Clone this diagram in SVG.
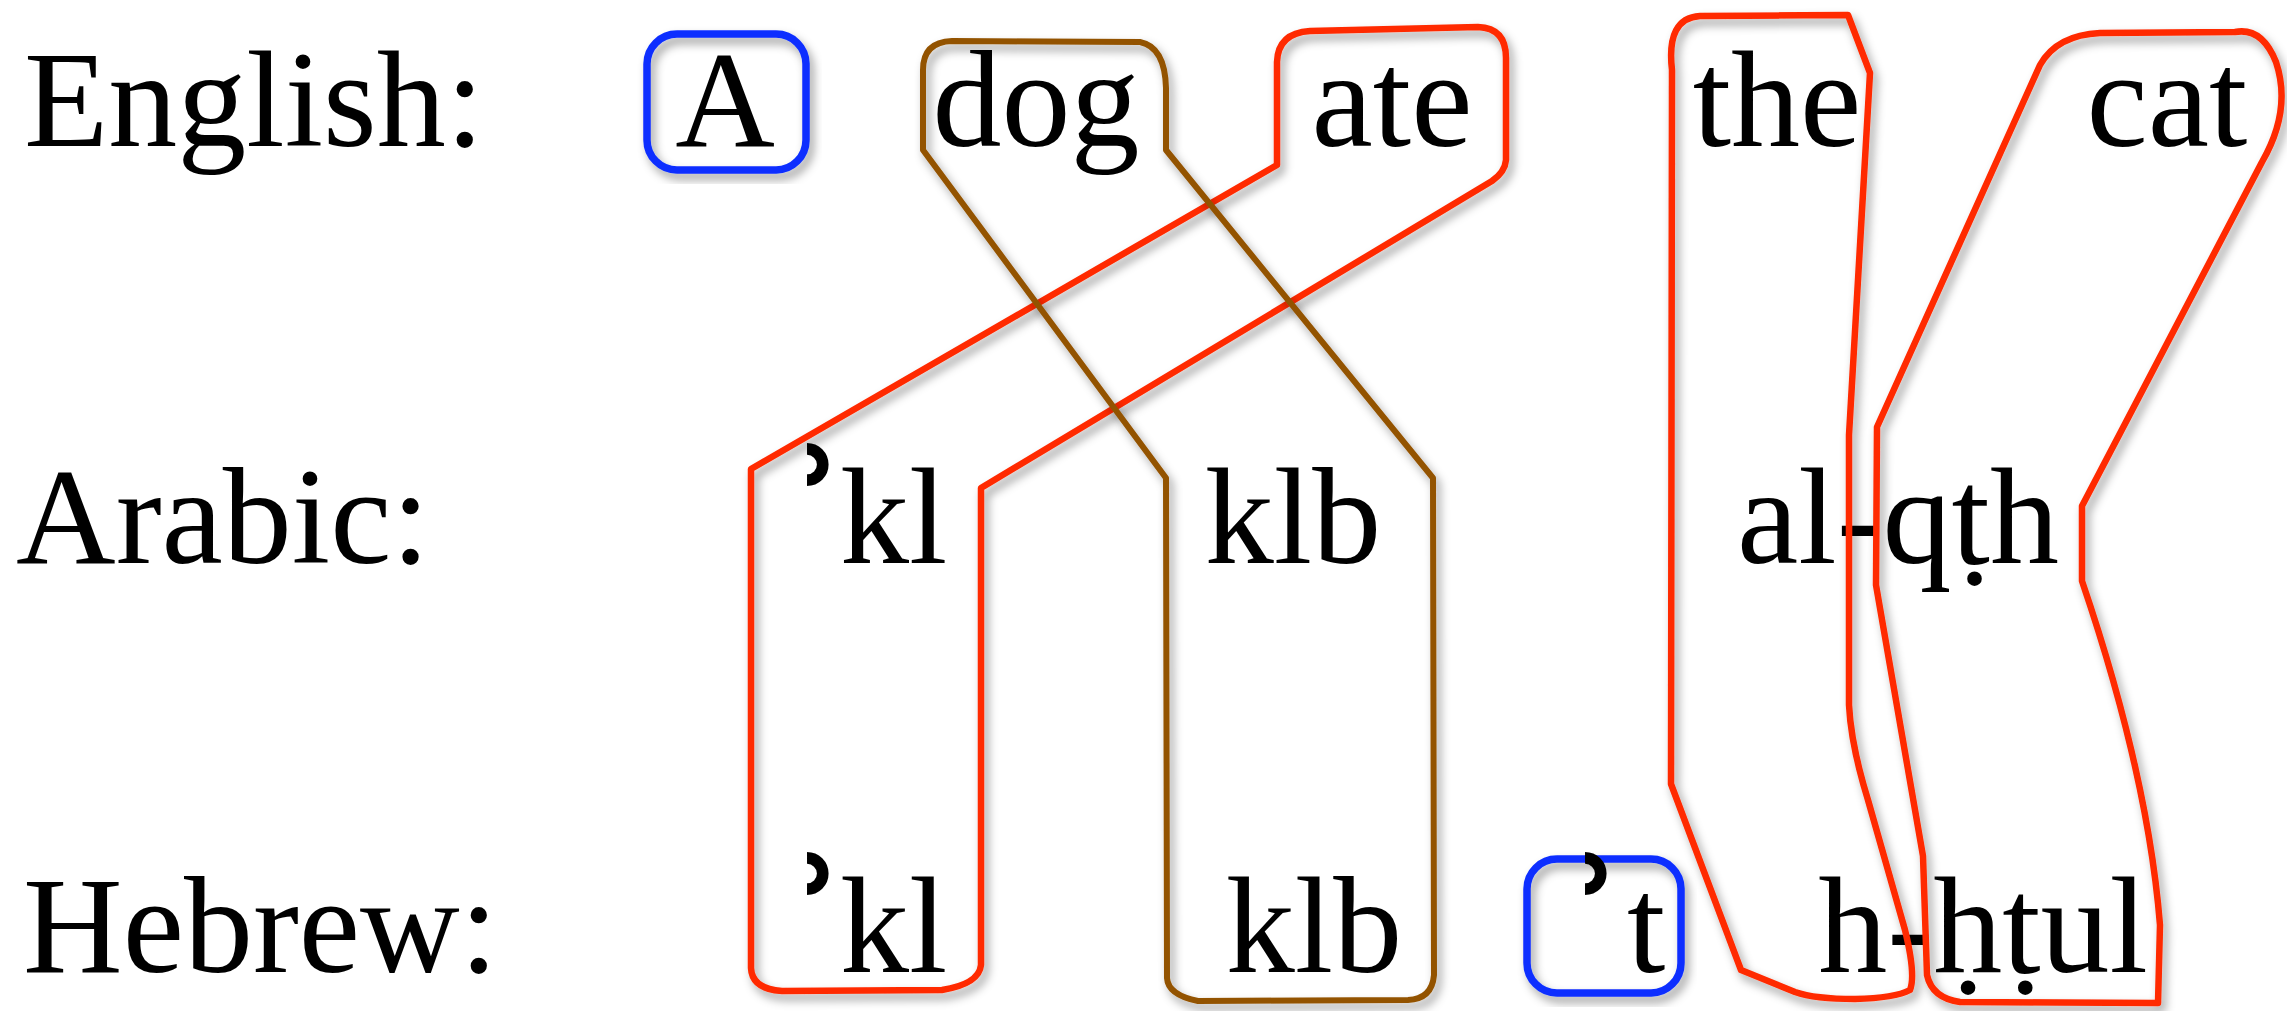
<svg xmlns="http://www.w3.org/2000/svg" width="2287" height="1011" viewBox="0 0 2287 1011">
<defs>
<style>
.t{font-family:"Liberation Serif","Times New Roman",serif;font-size:138px;fill:#000}
.m{text-anchor:middle}
.hr{font-family:"DejaVu Serif",serif;font-size:155px;font-weight:bold}
.lnk{fill:none;stroke-linejoin:round;filter:url(#sh)}
.red{stroke:#ff2a00;stroke-width:6.5}
.brown{stroke:#935300;stroke-width:6}
.blue{fill:none;stroke:#0a2fff;stroke-width:7.5;filter:url(#sh)}
</style>
<filter id="sh" x="-10%" y="-10%" width="120%" height="120%">
<feDropShadow dx="4" dy="6" stdDeviation="5" flood-color="#000" flood-opacity="0.38"/>
</filter>
</defs>
<rect width="2287" height="1011" fill="#fff"/>
<g id="labels">
<text class="t" x="24" y="146">English:</text>
<text class="t" x="16" y="563">Arabic:</text>
<text class="t" x="23" y="972">Hebrew:</text>
</g>
<g id="en-A"><rect class="blue" x="647" y="34" width="159" height="136" rx="30"/><text class="t m" x="725" y="146">A</text></g>
<g id="en-dog"><text class="t m" x="1036" y="146">dog</text></g>
<g id="en-ate"><text class="t m" x="1392" y="146">ate</text></g>
<g id="en-the"><text class="t m" x="1777" y="146">the</text></g>
<g id="en-cat"><text class="t m" x="2167" y="146">cat</text></g>
<g id="ar-akl"><text class="t" x="789" y="561"><tspan class="hr">ʾ</tspan><tspan x="840" y="563">kl</tspan></text></g>
<g id="ar-klb"><text class="t m" x="1293" y="563">klb</text></g>
<g id="ar-alqth"><text class="t m" x="1898" y="563">al-qṭh</text></g>
<g id="he-akl"><text class="t" x="789" y="970"><tspan class="hr">ʾ</tspan><tspan x="840" y="972">kl</tspan></text></g>
<g id="he-klb"><text class="t m" x="1314" y="972">klb</text></g>
<g id="he-at"><rect class="blue" x="1527" y="859" width="154" height="134" rx="30"/><text class="t" x="1567" y="970"><tspan class="hr">ʾ</tspan><tspan x="1627" y="972">t</tspan></text></g>
<g id="he-hhtul"><text class="t m" x="1983" y="972">h-ḥṭul</text></g>
<g id="connectors">
<path class="lnk red" d="M751,968 L751,469 L1277,165 L1277,62 Q1278,33 1310,31 L1478,27 Q1506,28 1506,58 L1506,160 Q1505,172 1492,181 L981,488 L981,965 Q979,984 942,990 L782,991 Q752,989 751,968 Z"/>
<path class="lnk red" d="M1671,784 L1672,70 Q1666,18 1700,16 L1848,15 L1870,73 L1849,435 L1849,705 Q1851,745 1868,800 L1905,930 Q1916,975 1910,990 Q1895,998 1855,999 Q1815,999 1795,992 L1741,970 Z"/>
<path class="lnk red" d="M1877,427 L2040,65 Q2057,35 2100,33 L2235,32 Q2262,27 2276,62 Q2292,110 2262,162 L2082,506 L2082,581 Q2148,775 2160,925 L2158,1003 L1960,1002 Q1932,998 1927,975 L1923,856 L1876,585 Z"/>
<path class="lnk brown" d="M923,150 L923,70 Q923,42 952,41 L1140,42 Q1165,47 1166,88 L1166,150 L1433,478 L1434,975 Q1432,999 1408,1000 L1198,1001 Q1168,995 1167,978 L1166,478 Z"/>
</g>
</svg>
